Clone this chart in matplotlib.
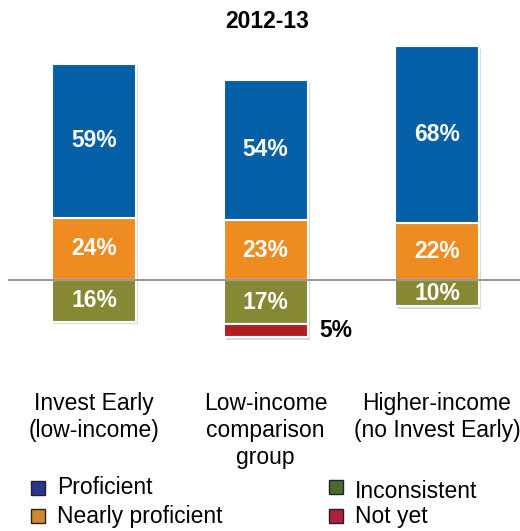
import numpy as np
import matplotlib.pyplot as plt
from matplotlib.patches import Rectangle

plt.rcParams['font.family'] = ['Liberation Sans', 'DejaVu Sans']

# data
groups = ['Invest Early\n(low-income)', 'Low-income\ncomparison\ngroup', 'Higher-income\n(no Invest Early)']
proficient = [59, 54, 68]
nearly = [24, 23, 22]
inconsistent = [16, 17, 10]
not_yet = [0, 5, 0]

bar_cols = {'prof': '#0560A8', 'near': '#EE8C22', 'inc': '#868834', 'not': '#B01E24'}
leg_cols = {'prof': '#2B3590', 'near': '#D0862E', 'inc': '#4A6B30', 'not': '#B0203A'}

W, H = 520, 531
fig = plt.figure(figsize=(W / 100, H / 100), dpi=100)
# axes spans x 8..520 px, y 40..360 px (from top)
ax = fig.add_axes([8 / W, (H - 360) / H, 512 / W, 320 / H])
scale = 2.6  # px per percent
ax.set_ylim(-80 / scale, 240 / scale)
sp = 171.5
ax.set_xlim(-(94 - 8) / sp, 2 + (520 - 437) / sp)
ax.axis('off')

x = np.arange(len(groups))
bw = 84 / sp
kw = dict(width=bw, edgecolor='white', linewidth=1.5, zorder=3)

# shadow
tops = np.array(proficient) + np.array(nearly)
bots = -(np.array(inconsistent) + np.array(not_yet))
for xi, t, b in zip(x, tops, bots):
    ax.add_patch(Rectangle((xi - bw / 2 + 0.012, b - 1.0), bw, t - b, facecolor='#d8d8d8',
                           edgecolor='none', zorder=1))

ax.bar(x, nearly, color=bar_cols['near'], **kw)
ax.bar(x, proficient, bottom=nearly, color=bar_cols['prof'], **kw)
ax.bar(x, [-v for v in inconsistent], color=bar_cols['inc'], **kw)
ax.bar(x, [-v for v in not_yet], bottom=[-v for v in inconsistent], color=bar_cols['not'], **kw)

ax.axhline(0, color='#999999', linewidth=1.5, zorder=4)

lab = dict(ha='center', va='center', color='white', fontsize=16.5, fontweight='bold', zorder=5)
for i in x:
    ax.text(i, nearly[i] + proficient[i] / 2, f'{proficient[i]}%', **lab)
    ax.text(i, nearly[i] / 2, f'{nearly[i]}%', **lab)
    ax.text(i, -inconsistent[i] / 2, f'{inconsistent[i]}%', **lab)
    if not_yet[i]:
        ax.text(i + bw / 2 + 0.07, -inconsistent[i] - not_yet[i] / 2, f'{not_yet[i]}%',
                ha='left', va='center', color='black', fontsize=16.5, fontweight='bold')

fig.text(267 / W, 1 - 22 / H, '2012-13', ha='center', va='center', fontsize=16.5, fontweight='bold')

for i, g in enumerate(groups):
    fig.text((94 + i * sp) / W, 1 - 392 / H, g, ha='center', va='top', fontsize=16.5,
             linespacing=1.22)

# legend
items = [('Proficient', 'prof', 31, 488), ('Nearly proficient', 'near', 31, 516),
         ('Inconsistent', 'inc', 329, 487), ('Not yet', 'not', 329, 516)]
for name, key, sx, sy in items:
    fig.patches.append(Rectangle((sx / W, 1 - (sy + 7) / H), 14 / W, 14 / H, transform=fig.transFigure,
                                 facecolor=leg_cols[key], edgecolor='#222222', linewidth=1))
    ty = sy if key in ('prof', 'near', 'not') else sy + 5
    fig.text((sx + 26) / W, 1 - ty / H, name, ha='left', va='center', fontsize=16.5)

fig.savefig('out.png', dpi=100)
